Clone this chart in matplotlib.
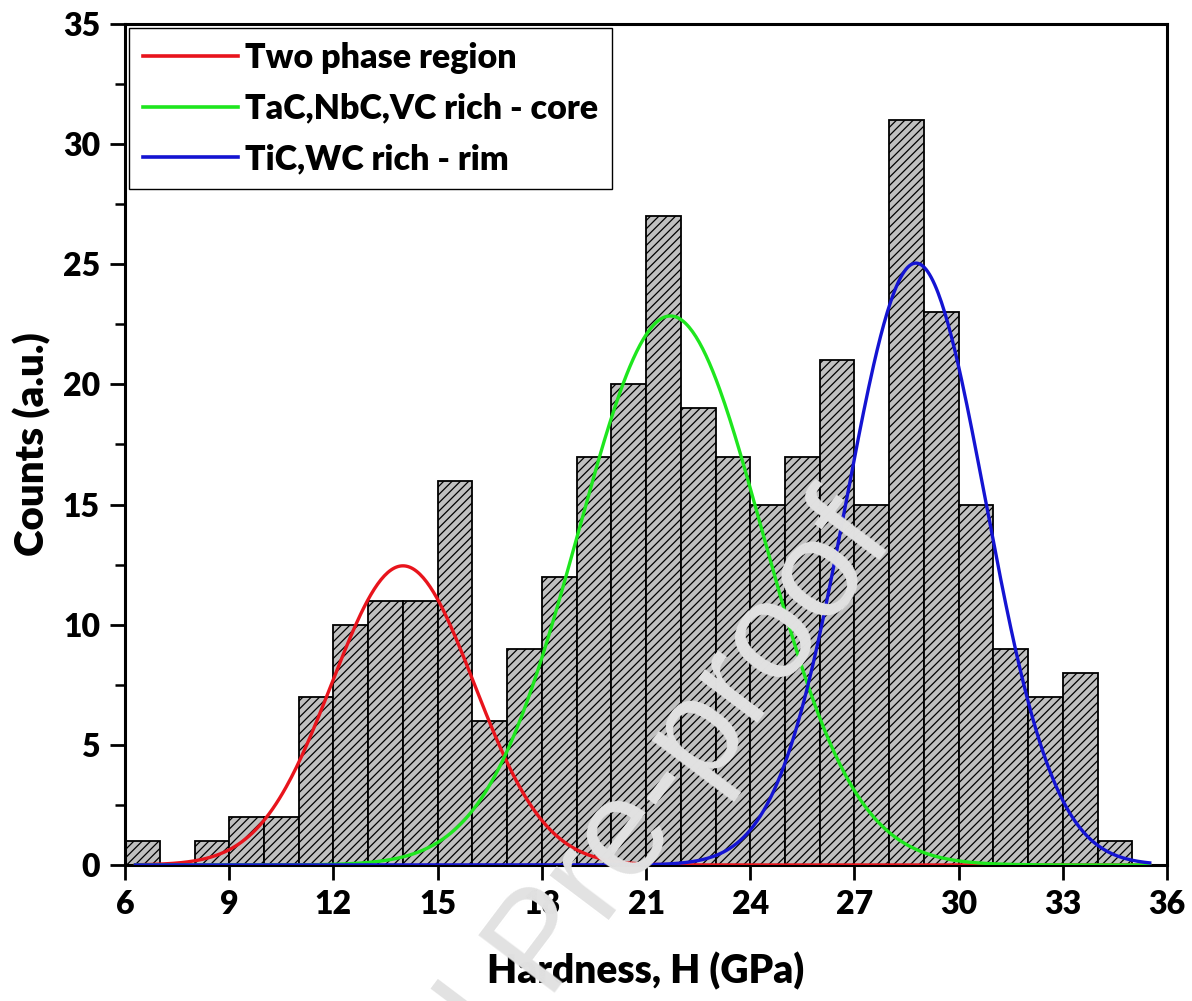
import numpy as np
import matplotlib
matplotlib.use("Agg")
import matplotlib.pyplot as plt
from matplotlib.ticker import MultipleLocator

# ---------------------- data ----------------------
bin_left = [6, 7, 8, 9, 10, 11, 12, 13, 14, 15, 16, 17, 18, 19, 20,
            21, 22, 23, 24, 25, 26, 27, 28, 29, 30, 31, 32, 33, 34]
counts = [1, 0, 1, 2, 2, 7, 10, 11, 11, 16, 6, 9, 12, 17, 20,
          27, 19, 17, 15, 17, 21, 15, 31, 23, 15, 9, 7, 8, 1]
bin_width = 1.0

# gaussian fit parameters (centre, amplitude, sigma)
fit_labels = ["Two phase region", "TaC,NbC,VC rich - core", "TiC,WC rich - rim"]
fit_centres = [14.0, 21.7, 28.77]
fit_amps = [12.45, 22.85, 25.05]
fit_sigmas = [2.05, 2.65, 2.0]
fit_colors = ["#e8141c", "#1ee61e", "#1414d2"]

FONT = ["Lato", "DejaVu Sans"]
W = "heavy"
plt.rcParams["font.family"] = FONT
plt.rcParams["font.weight"] = W
plt.rcParams["hatch.linewidth"] = 0.9

fig = plt.figure(figsize=(11.92, 10.01), dpi=100)
ax = fig.add_axes([0.1049, 0.1359, 0.8742, 0.8401])

# histogram bars
ax.bar(bin_left, counts, width=bin_width, align="edge", color="#c0c0c0",
       edgecolor="black", linewidth=1.3, hatch="////", zorder=2)

# fitted curves
xs = np.linspace(6.3, 35.5, 600)
for c, a, s, col, lab in zip(fit_centres, fit_amps, fit_sigmas, fit_colors, fit_labels):
    ax.plot(xs, a * np.exp(-(xs - c) ** 2 / (2 * s ** 2)), color=col, lw=2.4,
            label=lab, zorder=3)

ax.set_xlim(6, 36)
ax.set_ylim(0, 35)
ax.xaxis.set_major_locator(MultipleLocator(3))
ax.yaxis.set_major_locator(MultipleLocator(5))
ax.yaxis.set_minor_locator(MultipleLocator(2.5))
ax.tick_params(axis="both", which="major", direction="out", length=11, width=2,
               labelsize=23, pad=7)
ax.tick_params(axis="y", which="minor", direction="out", length=7, width=1.8)
ax.tick_params(top=False, right=False)
for sp in ax.spines.values():
    sp.set_linewidth(2.2)
for lbl in ax.get_xticklabels() + ax.get_yticklabels():
    lbl.set_fontweight(W)

ax.set_xlabel("Hardness, H (GPa)", fontsize=28, fontweight=W, labelpad=24)
ax.set_ylabel("Counts (a.u.)", fontsize=29, fontweight=W, labelpad=8)

leg = ax.legend(loc="upper left", fontsize=24.5, handlelength=2.8, handletextpad=0.2,
                labelspacing=0.55, borderpad=0.4, borderaxespad=0.12,
                fancybox=False, framealpha=1, edgecolor="black")
leg.get_frame().set_linewidth(1.0)
for t in leg.get_texts():
    t.set_fontweight(W)
for ln in leg.get_lines():
    ln.set_linewidth(2.6)

# journal watermark
fig.text(0.752, 0.462, "Journal Pre-proof", fontsize=100, color="#e2e2e2",
         family=["Liberation Sans", "DejaVu Sans"], fontweight="normal",
         rotation=53, rotation_mode="anchor", ha="right", va="baseline", zorder=10)

fig.savefig("out.png", dpi=100)
